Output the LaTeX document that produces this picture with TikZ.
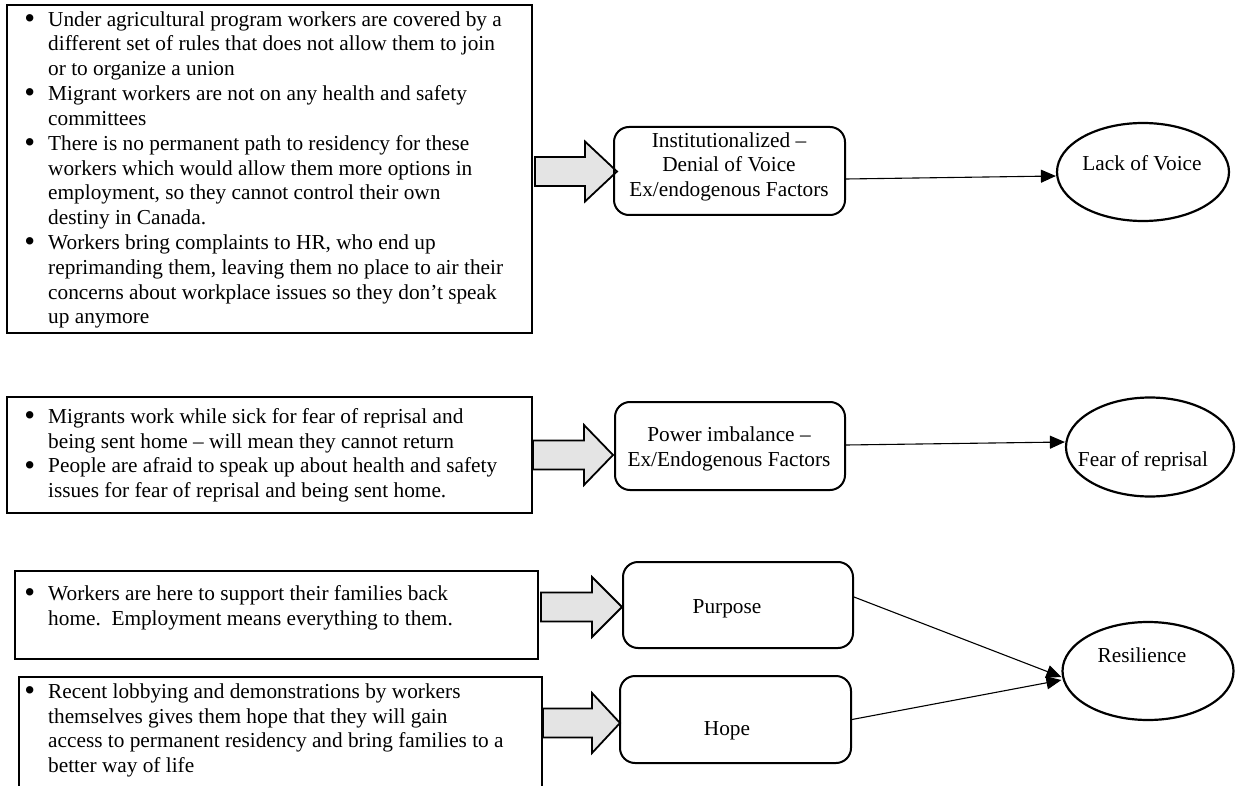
\documentclass[tikz,border=0pt]{standalone}
\usepackage{fontspec}
\setmainfont{Liberation Serif}
\usetikzlibrary{shapes.geometric,arrows.meta}
\definecolor{blockgray}{HTML}{E4E4E4}
\newcommand{\diagfont}{\fontsize{21.3}{24.8}\selectfont}
\newcommand{\bul}{\strut\llap{\raisebox{-0.11em}{\scalebox{1.45}{\textbullet}}\hspace{13pt}}}
\newcommand{\blkarrow}[4]{%
  \draw[blk] (#1,#4-14.5) -- (#2,#4-14.5) -- (#2,#4-30) -- (#3,#4) -- (#2,#4+30) -- (#2,#4+14.5) -- (#1,#4+14.5) -- cycle;}
\begin{document}
\begin{tikzpicture}[x=1pt,y=-1pt,
  bigbox/.style={draw, line width=2pt, rectangle, inner sep=0pt},
  rbox/.style={draw, line width=2pt, rectangle, rounded corners=15pt, inner sep=0pt},
  oval/.style={draw, ellipse, line width=2.2pt, inner sep=0pt},
  blk/.style={draw, line width=1.8pt, fill=blockgray, line join=miter},
  conn/.style={line width=1.1pt, -{Triangle[length=15pt,width=13pt]}},
  txt/.style={font=\diagfont, inner sep=0pt},
  bullets/.style={txt, align=left, anchor=north west},
  ctext/.style={txt, align=center, anchor=north},
  btext/.style={txt, anchor=base}]
\useasboundingbox (0,0) rectangle (1236,786);
\clip (0,0) rectangle (1236,786);

% left text boxes
\node[bigbox, minimum width=525pt, minimum height=328pt] (b1) at (269.5,169) {};
\node[bullets] (t1) at (48,8.64) {\bul Under agricultural program workers are covered by a\\
different set of rules that does not allow them to join\\
or to organize a union\\
\bul Migrant workers are not on any health and safety\\
committees\\
\bul There is no permanent path to residency for these\\
workers which would allow them more options in\\
employment, so they cannot control their own\\
destiny in Canada.\\
\bul Workers bring complaints to HR, who end up\\
reprimanding them, leaving them no place to air their\\
concerns about workplace issues so they don’t speak\\
up anymore};

\node[bigbox, minimum width=525pt, minimum height=116pt] (b2) at (269.5,455) {};
\node[bullets] (t2) at (48,405.64) {\bul Migrants work while sick for fear of reprisal and\\
being sent home – will mean they cannot return\\
\bul People are afraid to speak up about health and safety\\
issues for fear of reprisal and being sent home.};

\node[bigbox, minimum width=523pt, minimum height=88pt] (b3) at (276.5,615) {};
\node[bullets] (t3) at (48,582.64) {\bul Workers are here to support their families back\\
home.\ \ Employment means everything to them.};

\node[bigbox, minimum width=523pt, minimum height=130pt] (b4) at (280.5,742) {};
\node[bullets] (t4) at (48,680.64) {\bul Recent lobbying and demonstrations by workers\\
themselves gives them hope that they will gain\\
access to permanent residency and bring families to a\\
better way of life};

% block arrows
\blkarrow{535}{585}{617}{171.5}
\blkarrow{533}{584}{613}{455}
\blkarrow{541}{592}{622}{607}
\blkarrow{543}{592}{620}{723}

% middle rounded boxes
\node[rbox, minimum width=231pt, minimum height=88pt] (inst) at (729.5,171) {};
\node[ctext] (instt) at (729,129.64) {\strut Institutionalized –\\Denial of Voice\\Ex/endogenous Factors};

\node[rbox, minimum width=230pt, minimum height=88pt] (pw) at (730,446) {};
\node[ctext] (pwt) at (729,423.64) {\strut Power imbalance –\\Ex/Endogenous Factors};

\node[rbox, minimum width=230pt, minimum height=86pt] (pu) at (738,605) {};
\node[btext] (put) at (727,613) {Purpose};

\node[rbox, minimum width=231pt, minimum height=87pt] (hp) at (735.5,719.5) {};
\node[btext] (hpt) at (727,735) {Hope};

% ellipses
\node[oval, minimum width=172pt, minimum height=98pt] (lv) at (1143,172) {};
\node[btext] (lvt) at (1142,171) {Lack of Voice};

\node[oval, minimum width=168pt, minimum height=99pt] (fr) at (1150,447) {};
\node[btext] (frt) at (1143,466) {Fear of reprisal};

\node[oval, minimum width=171pt, minimum height=98pt] (rs) at (1148,671) {};
\node[btext] (rst) at (1142,662) {Resilience};

% connectors
\draw[conn] ([yshift=-8pt]inst.east) -- ([yshift=-4pt]lv.west);
\draw[conn] ([yshift=1pt]pw.east) -- ([yshift=5pt]fr.west);
\draw[conn] ([yshift=8pt]pu.east) -- ([yshift=-6pt]rs.west);
\draw[conn] (hp.east) -- ([yshift=-9pt]rs.west);
\end{tikzpicture}
\end{document}
